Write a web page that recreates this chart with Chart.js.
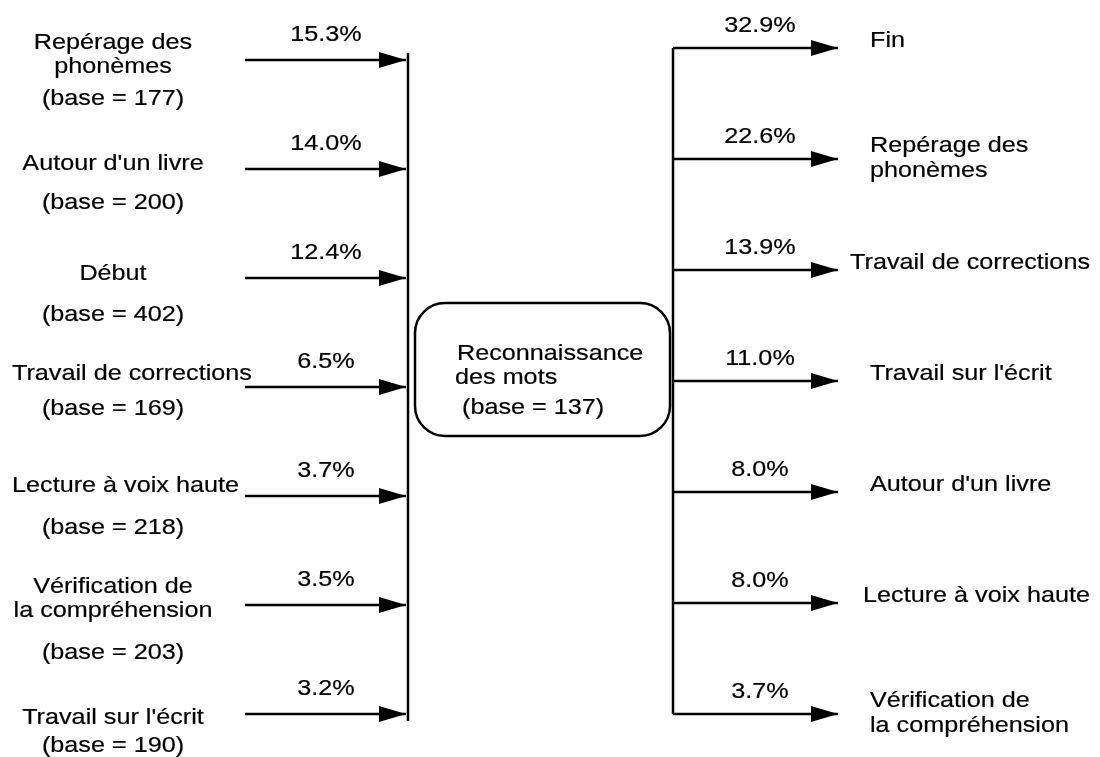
<!DOCTYPE html>
<html>
<head>
<meta charset="utf-8">
<script src="https://cdn.jsdelivr.net/npm/chart.js@4.4.1/dist/chart.umd.min.js"></script>
<style>
html, body { margin: 0; padding: 0; background: #fff; }
#wrap { width: 1100px; height: 757px; }
</style>
</head>
<body>
<div id="wrap"><canvas id="flow" width="1100" height="757"></canvas></div>
<script>
// data
var leftNames = ["Repérage des\nphonèmes", "Autour d'un livre", "Début", "Travail de corrections",
                 "Lecture à voix haute", "Vérification de\nla compréhension", "Travail sur l'écrit"];
var leftBases = [177, 200, 402, 169, 218, 203, 190];
var leftPcts = [15.3, 14.0, 12.4, 6.5, 3.7, 3.5, 3.2];

var rightNames = ["Fin", "Repérage des\nphonèmes", "Travail de corrections", "Travail sur l'écrit",
                  "Autour d'un livre", "Lecture à voix haute", "Vérification de\nla compréhension"];
var rightPcts = [32.9, 22.6, 13.9, 11.0, 8.0, 8.0, 3.7];

var centerName = "Reconnaissance\ndes mots";
var centerBase = 137;

// layout (in the 1100 x 757 frame of the scales)
var leftRowTop = 60, leftRowStep = 109;
var rightRowTop = 48, rightRowStep = 111;
var leftArrowFrom = 245, leftBarX = 408;
var rightBarX = 673, rightArrowTo = 838;
var leftLabelCenter = 113, leftPctCenter = 326;
var rightPctCenter = 760, rightLabelLeft = 870;
var leftNameNudge = [3, 3, 4, -5, -2, 2, 12];   // label block shift per row
var leftBaseNudge = [-4, 3, 5, -1, 6, 6, -8];   // extra shift of the "(base = n)" line
var box = {x0: 415, y0: 303, x1: 670, y1: 436, r: 30};

var ink = "#000";
var fontCss = "22.5px 'Liberation Sans', Arial, sans-serif";
var stretch = 1.12;

function pct(v) { return v.toFixed(1) + "%"; }

function makeArrowHead(len, half) {
    var c = document.createElement("canvas");
    c.width = len * 2;
    c.height = half * 2;
    var g = c.getContext("2d");
    g.fillStyle = ink;
    g.beginPath();
    g.moveTo(0, 0);
    g.lineTo(len, half);
    g.lineTo(0, half * 2);
    g.closePath();
    g.fill();
    return c;
}
var arrowHead = makeArrowHead(27, 8);

function arrowSet(points) {
    return {
        data: points,
        showLine: true,
        borderColor: ink,
        borderWidth: 2.5,
        clip: false,
        pointStyle: function (ctx) { return ctx.dataIndex === 1 ? arrowHead : "circle"; },
        pointRadius: function (ctx) { return ctx.dataIndex === 1 ? 5 : 0; }
    };
}

function lineSet(points) {
    return {
        data: points,
        showLine: true,
        borderColor: ink,
        borderWidth: 2.5,
        clip: false,
        pointRadius: 0
    };
}

var datasets = [];
for (let i = 0; i < leftPcts.length; i++) {
    let y = leftRowTop + i * leftRowStep;
    datasets.push(arrowSet([{x: leftArrowFrom, y: y}, {x: leftBarX - 2, y: y}]));
}
for (let i = 0; i < rightPcts.length; i++) {
    let y = rightRowTop + i * rightRowStep;
    datasets.push(arrowSet([{x: rightBarX, y: y}, {x: rightArrowTo, y: y}]));
}
datasets.push(lineSet([{x: leftBarX, y: 53}, {x: leftBarX, y: 721}]));
datasets.push(lineSet([{x: rightBarX, y: rightRowTop},
                       {x: rightBarX, y: rightRowTop + (rightPcts.length - 1) * rightRowStep}]));

function drawText(ctx, text, x, y, align) {
    ctx.save();
    ctx.translate(x, y);
    ctx.scale(stretch, 1);
    ctx.textAlign = align;
    ctx.fillText(text, 0, 0);
    ctx.strokeText(text, 0, 0);
    ctx.restore();
}
function textWidth(ctx, text) { return ctx.measureText(text).width * stretch; }

var labelsPlugin = {
    id: "flowLabels",
    afterDatasetsDraw: function (chart) {
        let ctx = chart.ctx;
        let sx = chart.scales.x, sy = chart.scales.y;
        let px = function (v) { return sx.getPixelForValue(v); };
        let py = function (v) { return sy.getPixelForValue(v); };
        ctx.save();
        ctx.font = fontCss;
        ctx.fillStyle = ink;
        ctx.strokeStyle = ink;
        ctx.lineWidth = 0.2;
        ctx.textBaseline = "middle";

        // left side: origins
        for (let i = 0; i < leftNames.length; i++) {
            let rowY = leftRowTop + i * leftRowStep;
            let lines = leftNames[i].split("\n");
            lines.push("(base = " + leftBases[i] + ")");
            let y0 = rowY - 8 - (lines.length - 2) * 12 + leftNameNudge[i];
            for (let k = 0; k < lines.length; k++) {
                let y = k < lines.length - 1 ? y0 + k * 24 : y0 + (k - 1) * 24 + 36 + leftBaseNudge[i];
                let w = textWidth(ctx, lines[k]);
                let left = Math.max(12, leftLabelCenter - w / 2);
                drawText(ctx, lines[k], px(left), py(y), "left");
            }
            drawText(ctx, pct(leftPcts[i]), px(leftPctCenter), py(rowY - 25), "center");
        }

        // right side: destinations
        for (let i = 0; i < rightNames.length; i++) {
            let rowY = rightRowTop + i * rightRowStep;
            let lines = rightNames[i].split("\n");
            let y0 = lines.length > 1 ? rowY - 13 : rowY - 7;
            for (let k = 0; k < lines.length; k++) {
                let w = textWidth(ctx, lines[k]);
                let left = Math.min(rightLabelLeft, 1090 - w);
                drawText(ctx, lines[k], px(left), py(y0 + k * 25), "left");
            }
            drawText(ctx, pct(rightPcts[i]), px(rightPctCenter), py(rowY - 22), "center");
        }

        // centre box
        let cl = centerName.split("\n");
        let cy = (box.y0 + box.y1) / 2;
        drawText(ctx, cl[0], px(box.x0 + 42), py(cy - 16), "left");
        drawText(ctx, cl[1], px(box.x0 + 40), py(cy + 8), "left");
        drawText(ctx, "(base = " + centerBase + ")", px(box.x0 + 47), py(cy + 38), "left");
        ctx.lineWidth = 2.5;
        ctx.beginPath();
        ctx.roundRect(px(box.x0), py(box.y0), px(box.x1) - px(box.x0), py(box.y1) - py(box.y0), box.r);
        ctx.stroke();
        ctx.restore();
    }
};

new Chart(document.getElementById("flow").getContext("2d"), {
    type: "scatter",
    data: {datasets: datasets},
    options: {
        responsive: false,
        devicePixelRatio: 1,
        animation: false,
        events: [],
        layout: {padding: 0, autoPadding: false},
        plugins: {legend: {display: false}, tooltip: {enabled: false}},
        scales: {
            x: {type: "linear", min: 0, max: 1100, display: false},
            y: {type: "linear", min: 0, max: 757, reverse: true, display: false}
        }
    },
    plugins: [labelsPlugin]
});
</script>
</body>
</html>
